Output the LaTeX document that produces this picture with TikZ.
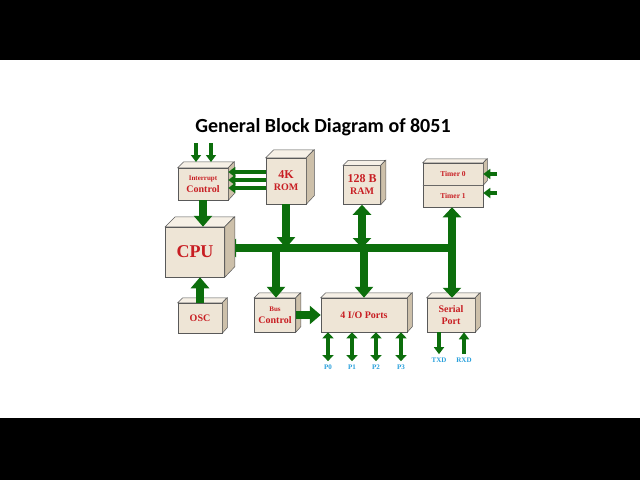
\documentclass[tikz,border=0pt]{standalone}
\usepackage{fontspec}
\setmainfont{Liberation Serif}
\newfontfamily\titlefont{Carlito}
\usetikzlibrary{arrows.meta}
\definecolor{bg}{RGB}{238,229,214}
\definecolor{bgtop}{RGB}{246,240,230}
\definecolor{bgside}{RGB}{205,192,170}
\definecolor{txt}{RGB}{200,30,35}
\definecolor{grn}{RGB}{12,110,12}
\definecolor{lbl}{RGB}{40,160,220}
\tikzset{
 box/.style={draw=gray!70!black,line width=0.5pt,fill=bg,inner sep=0pt,font=\bfseries\color{txt},align=center},
 bus/.style={draw=grn,line width=8pt},
 ar/.style={bus,-{Triangle[width=18pt,length=11pt]}},
 dar/.style={bus,{Triangle[width=18pt,length=10pt]}-{Triangle[width=18pt,length=10pt]}},
 sar/.style={draw=grn,line width=4.5pt,-{Triangle[width=10pt,length=7pt]}},
 lab/.style={font=\bfseries\fontsize{7}{8}\selectfont\color{lbl}}
}
\newcommand\blk[7]{% name cx cy w h depth text
 \node[box,minimum width=#4,minimum height=#5] (#1) at (#2,#3) {#7};
 \fill[bgtop,draw=gray!70!black,line width=0.5pt] (#1.north west)--++(#6,-#6)--++(#4,0)--(#1.north east)--cycle;
 \fill[bgside,draw=gray!70!black,line width=0.5pt] (#1.north east)--++(#6,-#6)--++(0,#5)--(#1.south east)--cycle;}
\begin{document}
\begin{tikzpicture}[x=1pt,y=-1pt]
\fill[white] (0,0) rectangle (640,480);
\fill[black] (0,0) rectangle (640,60);
\fill[black] (0,418) rectangle (640,480);
\node[font=\titlefont\bfseries\fontsize{20}{22}\selectfont] (title) at (323,127) {General Block Diagram of 8051};
% arrows under boxes
\coordinate (busE) at (452,248);
\coordinate (busW) at (225,248);
\draw[ar] (busE) -- (busW);
\blk{intc}{203}{184}{50}{32}{6}{\fontsize{7}{9}\selectfont Interrupt\\ Control}
\blk{rom}{286}{181}{40}{46}{8}{\fontsize{12}{13}\selectfont 4K\\ ROM}
\blk{cpu}{195}{252}{59}{50}{10}{\fontsize{18}{20}\selectfont CPU}
\blk{ram}{362}{185}{37}{39}{5}{\fontsize{12}{13}\selectfont 128 B\\ RAM}
\blk{t0}{453}{174}{60}{22}{4}{\fontsize{7.5}{9}\selectfont Timer 0}
\blk{t1}{453}{196}{60}{22}{0}{\fontsize{7.5}{9}\selectfont Timer 1}
\blk{osc}{200}{318}{44}{30}{5}{\fontsize{10}{12}\selectfont OSC}
\blk{busc}{275}{315}{41}{34}{5}{\fontsize{7}{9}\selectfont Bus\\ Control}
\blk{io}{364}{315}{86}{34}{5}{\fontsize{10}{12}\selectfont 4 I/O Ports}
\blk{ser}{451}{315}{48}{34}{5}{\fontsize{10}{12}\selectfont Serial\\ Port}
% connectors
\draw[ar] (intc.south) -- (cpu.north -| intc.south);
\draw[ar] (osc.north) -- (cpu.south -| osc.north);
\draw[ar] (rom.south) -- (rom.south |- busE);
\draw[dar] (ram.south) -- (ram.south |- busE);
\draw[ar] (364,248) -- (io.north -| 364,0);
\draw[ar] (276,248) -- (busc.north -| 276,0);
\draw[dar] (t1.south -| busE) -- (ser.north -| busE);
\draw[ar] (busc.east) -- (io.west);
\foreach \y in {172,180,188}{\draw[sar] (rom.west |- 0,\y) -- (intc.east |- 0,\y);}
\foreach \x [count=\i] in {196,211}{\coordinate (ii\i) at (\x,143); \draw[sar] (ii\i) -- (\x,162);}
\coordinate (ti0) at (497,174); \coordinate (ti1) at (497,193);
\draw[sar] (ti0) -- (t0.east |- ti0);
\draw[sar] (ti1) -- (t1.east |- ti1);
\foreach \x/\p in {328/P0,352/P1,376/P2,401/P3}{
 \node[lab] (\p) at (\x,367) {\p};
 \draw[draw=grn,line width=4.5pt,{Triangle[width=11pt,length=6pt]}-{Triangle[width=11pt,length=6pt]}] (io.south -| \x,0) -- (\p.north);}
\node[lab] (txd) at (439,360) {TXD};
\node[lab] (rxd) at (464,360) {RXD};
\draw[sar] (ser.south -| txd) -- (txd.north);
\draw[sar] (rxd.north) -- (ser.south -| rxd);
\end{tikzpicture}
\end{document}
